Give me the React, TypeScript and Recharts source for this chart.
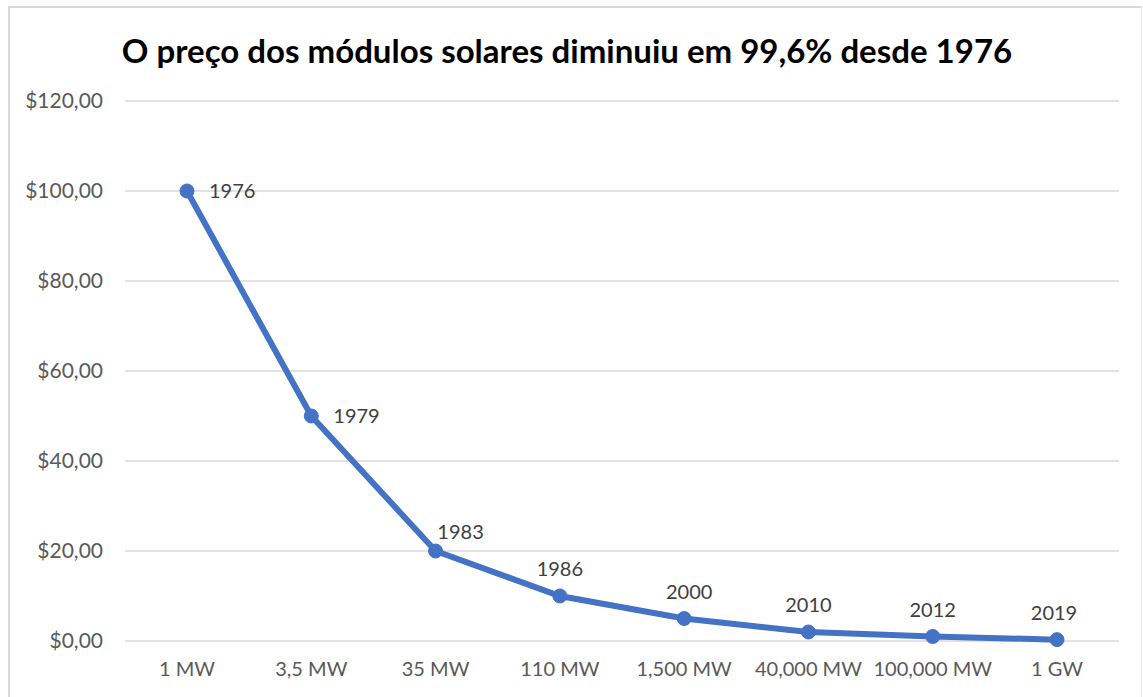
import { LineChart, Line, XAxis, YAxis, CartesianGrid, LabelList } from "recharts";

// #region Chart data
const capacities = ["1 MW", "3,5 MW", "35 MW", "110 MW", "1,500 MW", "40,000 MW", "100,000 MW", "1 GW"];
const prices = [100, 50, 20, 10, 5, 2, 1, 0.3];
const years = ["1976", "1979", "1983", "1986", "2000", "2010", "2012", "2019"];
const yTicks = [0, 20, 40, 60, 80, 100, 120];
// #endregion

const data = capacities.map((name, i) => ({ name, price: prices[i], year: years[i] }));

const FONT = "Lato, 'Open Sans', sans-serif";

const formatMoney = (v: number) => "$" + v.toFixed(2).replace(".", ",");

// Excel-style labels: first two sit to the right of the dot, the rest above
const YearLabel = (props: any) => {
  const { x, y, value, index } = props;
  if (index < 2) {
    return (
      <text x={x + 22} y={y} dy="0.35em" fill="#404040" fontSize={20} fontFamily={FONT} textAnchor="start">
        {value}
      </text>
    );
  }
  const shift = index === 2 ? 25 : index === 7 ? -3 : index === 4 ? 5 : 0;
  const lift = index === 2 ? 19 : 27;
  return (
    <text x={x + shift} y={y - lift} dy="0.35em" fill="#404040" fontSize={20} fontFamily={FONT} textAnchor="middle">
      {value}
    </text>
  );
};

const App = () => {
  return (
    <div
      style={{
        position: "absolute",
        left: 0,
        top: 0,
        width: 1143,
        height: 697,
        background: "#fff",
        fontFamily: FONT,
      }}
    >
      <div
        style={{
          position: "absolute",
          left: 8,
          top: 6,
          right: 1,
          bottom: -2,
          borderTop: "2px solid #d9d9d9",
          borderLeft: "2px solid #d9d9d9",
          borderRight: "1px solid #eeeeee",
        }}
      />
      <div
        style={{
          position: "absolute",
          left: 0,
          top: 29,
          width: 1134,
          textAlign: "center",
          fontSize: 33,
          fontWeight: 700,
          color: "#000",
          lineHeight: "42px",
        }}
      >
        O preço dos módulos solares diminuiu em 99,6% desde 1976
      </div>
      <LineChart
        width={1143}
        height={697}
        data={data}
        margin={{ top: 101, right: 24, left: 0, bottom: 0 }}
        style={{ position: "absolute", left: 0, top: 0 }}
      >
        <CartesianGrid vertical={false} stroke="#d9d9d9" strokeWidth={1.5} />
        <XAxis
          dataKey="name"
          axisLine={false}
          tickLine={false}
          height={56}
          tickMargin={15}
          padding={{ left: 62, right: 62 }}
          tick={{ fill: "#595959", fontSize: 20, fontFamily: FONT }}
          interval={0}
        />
        <YAxis
          width={125}
          domain={[0, 120]}
          ticks={yTicks}
          axisLine={false}
          tickLine={false}
          tickMargin={16}
          tickFormatter={formatMoney}
          tick={{ fill: "#595959", fontSize: 21, fontFamily: FONT }}
        />
        <Line
          type="linear"
          dataKey="price"
          stroke="#4472C4"
          strokeWidth={6}
          dot={{ r: 7, fill: "#4472C4", stroke: "#4472C4", strokeWidth: 1 }}
          isAnimationActive={false}
        >
          <LabelList dataKey="year" content={<YearLabel />} />
        </Line>
      </LineChart>
    </div>
  );
};

export default App;
